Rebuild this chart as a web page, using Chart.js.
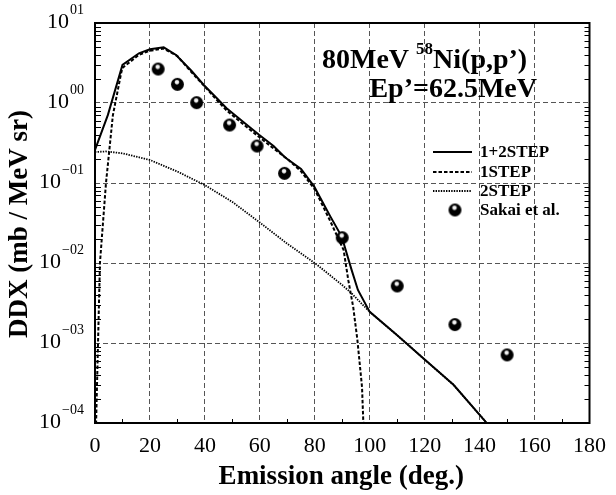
<!DOCTYPE html>
<html>
<head>
<meta charset="utf-8">
<script src="https://cdn.jsdelivr.net/npm/chart.js@4/dist/chart.umd.min.js"></script>
<style>
  html, body { margin: 0; padding: 0; background: #fff; }
  #wrap { width: 616px; height: 495px; }
</style>
</head>
<body>
<div id="wrap"><canvas id="c" width="616" height="495"></canvas></div>
<script>
// Emission angle (deg.) and DDX (mb / MeV sr) for each curve
const sumAngles = [0, 4.7, 10, 16, 20, 25, 29.5, 35, 39.6, 44, 47.9, 54, 59.7, 65, 69.1, 75, 79.8, 85.7, 89.8, 93.4, 95.7, 100, 110, 120, 130.5, 142.6, 150];
const sumDDX    = [0.259, 0.71, 2.99, 4.18, 4.69, 4.97, 3.98, 2.55, 1.68, 1.18, 0.86, 0.58, 0.40, 0.29, 0.21, 0.15, 0.090, 0.038, 0.0214, 0.0082, 0.0046, 0.00245, 0.00125, 0.00062, 0.00030, 0.00010, 0.00004];

const oneStepAngles = [0, 0.4, 1.8, 4, 6.5, 9.5, 10, 16, 20, 25, 30, 35, 40, 44, 48, 54, 60, 65, 70, 75, 80, 85.7, 90.5, 92.2, 94, 95.5, 97.2, 98];
const oneStepDDX    = [0.00002, 0.0001, 0.01, 0.1, 0.7, 2.35, 2.75, 4.0, 4.5, 4.8, 3.85, 2.45, 1.6, 1.12, 0.8, 0.54, 0.37, 0.27, 0.20, 0.14, 0.083, 0.033, 0.0145, 0.0061, 0.0028, 0.0011, 0.00028, 0.00005];

const twoStepAngles = [0, 4, 10, 20, 30, 40, 50, 60, 70, 80, 90, 93.3, 100, 110, 120, 130.5, 142.6, 150];
const twoStepDDX    = [0.244, 0.248, 0.235, 0.194, 0.139, 0.094, 0.058, 0.032, 0.0174, 0.010, 0.0053, 0.0042, 0.00245, 0.00125, 0.00062, 0.00030, 0.00010, 0.00004];

const sakaiAngles = [23, 30, 37, 49, 59, 69, 90, 110, 131, 150];
const sakaiDDX    = [2.66, 1.71, 1.01, 0.53, 0.29, 0.132, 0.0207, 0.00516, 0.0017, 0.00071];

// Axis ticks
const xTicks = [0, 20, 40, 60, 80, 100, 120, 140, 160, 180];
const xMinorTicks = [10, 30, 50, 70, 90, 110, 130, 150, 170];
const yDecades = [-4, -3, -2, -1, 0, 1];

const seriesNames = ['1+2STEP', '1STEP', '2STEP', 'Sakai et al.'];
const titleLine1 = ['80MeV ', '58', 'Ni(p,p\u2019)'];
const titleLine2 = 'Ep\u2019=62.5MeV';
const xTitle = 'Emission angle (deg.)';
const yTitle = 'DDX (mb / MeV sr)';

const SERIF = '"Liberation Serif", "DejaVu Serif", serif';

function pts(xs, ys) { return xs.map((x, i) => ({ x: x, y: ys[i] })); }

// black ball marker with a small highlight
function ball(r) {
  const c = document.createElement('canvas');
  const s = Math.ceil(2 * r + 2);
  c.width = s; c.height = s;
  const g = c.getContext('2d');
  const cx = s / 2, cy = s / 2;
  g.beginPath(); g.arc(cx, cy, r, 0, Math.PI * 2); g.fillStyle = '#000'; g.fill();
  const hx = cx - 0.5, hy = cy - 2.2;
  const grd = g.createRadialGradient(hx, hy, 0, hx, hy, 2.8);
  grd.addColorStop(0, 'rgba(255,255,255,1)');
  grd.addColorStop(0.6, 'rgba(255,255,255,0.9)');
  grd.addColorStop(1, 'rgba(255,255,255,0)');
  g.beginPath(); g.arc(hx, hy, 2.8, 0, Math.PI * 2); g.fillStyle = grd; g.fill();
  return c;
}
const ballImg = ball(6.5);

const yTickValues = [];
yDecades.forEach(k => {
  const top = k === yDecades[yDecades.length - 1] ? 1 : 9;
  for (let m = 1; m <= top; m++) yTickValues.push(m * Math.pow(10, k));
});
const isDecade = v => Math.abs(Math.log10(v) - Math.round(Math.log10(v))) < 1e-9;

const styles = [
  { borderWidth: 2, borderDash: [] },
  { borderWidth: 2, borderDash: [3.5, 2] },
  { borderWidth: 1.8, borderDash: [1.4, 1.2] }
];

const overlay = {
  id: 'overlay',
  afterDraw(chart) {
    const ctx = chart.ctx;
    const a = chart.chartArea;
    const xs = chart.scales.x, ys = chart.scales.y;
    ctx.save();
    ctx.fillStyle = '#000';
    ctx.strokeStyle = '#000';

    // frame
    ctx.lineWidth = 2;
    ctx.setLineDash([]);
    ctx.strokeRect(a.left, a.top, a.right - a.left, a.bottom - a.top);

    // inner minor ticks
    ctx.lineWidth = 1;
    ctx.beginPath();
    yTickValues.forEach(v => {
      if (isDecade(v)) return;
      const y = Math.round(ys.getPixelForValue(v)) + 0.5;
      ctx.moveTo(a.left, y); ctx.lineTo(a.left + 6, y);
      ctx.moveTo(a.right, y); ctx.lineTo(a.right - 5, y);
    });
    xMinorTicks.forEach(v => {
      const x = Math.round(xs.getPixelForValue(v)) + 0.5;
      ctx.moveTo(x, a.bottom); ctx.lineTo(x, a.bottom - 4);
    });
    ctx.stroke();

    // y tick labels as powers of ten
    yDecades.forEach(k => {
      const y = ys.getPixelForValue(Math.pow(10, k));
      const exp = (k < 0 ? '\u2212' : '') + '0' + Math.abs(k);
      ctx.font = '14px ' + SERIF;
      const ew = ctx.measureText(exp).width;
      const right = 84;
      ctx.textAlign = 'left';
      ctx.textBaseline = 'middle';
      ctx.fillText(exp, right - ew, y - 13);
      ctx.font = '22px ' + SERIF;
      ctx.textAlign = 'right';
      ctx.fillText('10', right - ew - 1, y - 1);
    });

    // axis titles
    ctx.font = 'bold 27px ' + SERIF;
    ctx.textAlign = 'center';
    ctx.textBaseline = 'middle';
    ctx.fillText(xTitle, (a.left + a.right) / 2 - 1, 477);
    ctx.save();
    ctx.translate(20, 224);
    ctx.rotate(-Math.PI / 2);
    ctx.fillText(yTitle, 0, 0);
    ctx.restore();

    // reaction annotation
    ctx.textAlign = 'left';
    ctx.textBaseline = 'alphabetic';
    let x = 322;
    ctx.font = 'bold 28px ' + SERIF;
    ctx.fillText(titleLine1[0], x, 68);
    x += ctx.measureText(titleLine1[0]).width;
    ctx.font = 'bold 17px ' + SERIF;
    ctx.fillText(titleLine1[1], x, 54);
    x += ctx.measureText(titleLine1[1]).width;
    ctx.font = 'bold 28px ' + SERIF;
    ctx.fillText(titleLine1[2], x, 68);
    ctx.textAlign = 'right';
    ctx.fillText(titleLine2, 537, 97);

    // legend
    const legY = [152, 172, 191, 210];
    ctx.textAlign = 'left';
    ctx.textBaseline = 'middle';
    ctx.font = 'bold 17px ' + SERIF;
    for (let i = 0; i < 3; i++) {
      ctx.beginPath();
      ctx.lineWidth = styles[i].borderWidth;
      ctx.setLineDash(styles[i].borderDash);
      ctx.moveTo(433, legY[i]); ctx.lineTo(472, legY[i]);
      ctx.stroke();
    }
    ctx.setLineDash([]);
    ctx.drawImage(ballImg, 455 - ballImg.width / 2, legY[3] - ballImg.height / 2);
    seriesNames.forEach((n, i) => ctx.fillText(n, 480, legY[i] + 1));
    ctx.restore();
  }
};

new Chart(document.getElementById('c'), {
  type: 'scatter',
  data: {
    datasets: [
      { label: seriesNames[3], data: pts(sakaiAngles, sakaiDDX), pointStyle: ballImg, pointRadius: 7, showLine: false, order: 0 },
      { label: seriesNames[0], data: pts(sumAngles, sumDDX), showLine: true, borderColor: '#000', pointRadius: 0, borderWidth: styles[0].borderWidth, borderDash: styles[0].borderDash, order: 1 },
      { label: seriesNames[1], data: pts(oneStepAngles, oneStepDDX), showLine: true, borderColor: '#000', pointRadius: 0, borderWidth: styles[1].borderWidth, borderDash: styles[1].borderDash, order: 2 },
      { label: seriesNames[2], data: pts(twoStepAngles, twoStepDDX), showLine: true, borderColor: '#000', pointRadius: 0, borderWidth: styles[2].borderWidth, borderDash: styles[2].borderDash, order: 3 }
    ]
  },
  options: {
    responsive: false,
    animation: false,
    devicePixelRatio: 1,
    layout: { padding: { left: 0, right: 14, top: 23, bottom: 0 } },
    plugins: { legend: { display: false }, tooltip: { enabled: false } },
    scales: {
      x: {
        type: 'linear', min: 0, max: 180,
        afterBuildTicks: sc => { sc.ticks = xTicks.map(v => ({ value: v })); },
        afterFit: sc => { sc.height = 72; },
        ticks: { color: '#000', padding: 10, font: { family: SERIF, size: 22 } },
        grid: { color: '#555', lineWidth: 1, drawTicks: false },
        border: { display: false, dash: [5, 3] }
      },
      y: {
        type: 'logarithmic', min: 1e-4, max: 10,
        afterBuildTicks: sc => { sc.ticks = yTickValues.map(v => ({ value: v })); },
        afterFit: sc => { sc.width = 95; },
        ticks: { display: false },
        grid: {
          color: c => (c.tick && isDecade(c.tick.value)) ? '#555' : 'rgba(0,0,0,0)',
          lineWidth: 1, drawTicks: false
        },
        border: { display: false, dash: [5, 3] }
      }
    }
  },
  plugins: [overlay]
});
</script>
</body>
</html>
